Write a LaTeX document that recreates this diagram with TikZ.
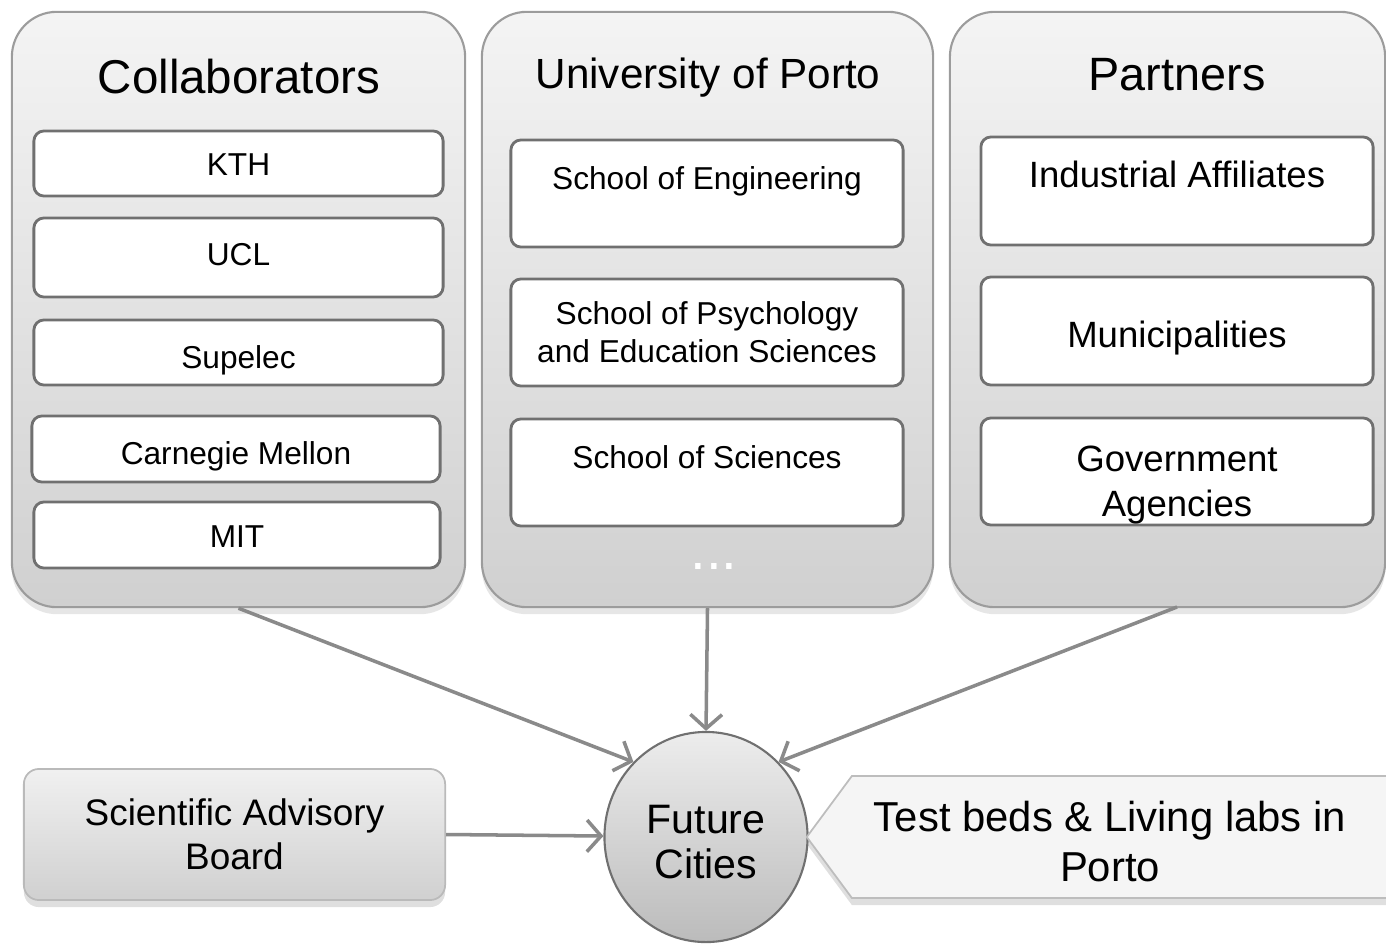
\documentclass[tikz,border=0pt]{standalone}
\usepackage{fontspec}
\setmainfont{Liberation Sans}
\usetikzlibrary{shapes.geometric,shapes.symbols,shadows,arrows.meta}
\definecolor{grouptop}{HTML}{F4F4F4}
\definecolor{groupbot}{HTML}{D0D0D0}
\definecolor{groupline}{HTML}{9C9C9C}
\definecolor{boxline}{HTML}{707070}
\definecolor{edgegray}{HTML}{8A8A8A}
\definecolor{bedfill}{HTML}{F5F5F5}
\definecolor{bedline}{HTML}{BDBDBD}

\begin{document}
\begin{tikzpicture}[x=0.01cm, y=0.01cm]
\tikzstyle{every node}+=[inner sep=0pt]
\tikzstyle{group}=[draw=groupline, line width=0.6pt, rounded corners=0.45cm, top color=grouptop, bottom color=groupbot, drop shadow={opacity=0.2, shadow xshift=0pt, shadow yshift=-2pt}]
\tikzstyle{member}=[draw=boxline, line width=0.8pt, fill=white, rounded corners=0.1cm, align=center]
\tikzstyle{feed}=[draw=edgegray, line width=1pt, -{Straight Barb[length=4pt,width=9pt]}]
\tikzstyle{topline}=[text height=7pt, text depth=9.2pt]
\useasboundingbox (0,0) rectangle (1386,-949);
% the three groups
\node[group, minimum width=4.53cm, minimum height=5.95cm] (collab) at (238.5,-309.5) {};
\node[group, minimum width=4.51cm, minimum height=5.95cm] (uni) at (707.5,-309.5) {};
\node[group, minimum width=4.35cm, minimum height=5.95cm] (partners) at (1167.5,-309.5) {};
\node[font=\fontsize{13.5}{16}\selectfont] (collabT) at (239,-77) {Collaborators};
\node[font=\fontsize{12}{14}\selectfont] (uniT) at (708,-78) {University of Porto};
\node[font=\fontsize{13.3}{16}\selectfont] (partnersT) at (1177,-75) {Partners};
% collaborators
\tikzstyle{every node}+=[font=\fontsize{9}{10.8}\selectfont]
\node[member, text height=7pt, text depth=0pt, minimum width=4.09cm, minimum height=0.65cm] (kth) at (238.5,-163.5) {KTH};
\node[member, text height=6.6pt, text depth=2.2pt, minimum width=4.09cm, minimum height=0.79cm] (ucl) at (238.5,-257.5) {UCL};
\node[member, text height=9.2pt, text depth=0pt, minimum width=4.09cm, minimum height=0.65cm] (supelec) at (238.5,-352.5) {Supelec};
\node[member, text height=9pt, text depth=0pt, minimum width=4.08cm, minimum height=0.66cm] (cmu) at (236,-449) {Carnegie Mellon};
\node[member, text height=7pt, text depth=0pt, minimum width=4.06cm, minimum height=0.66cm] (mit) at (237,-535) {MIT};
% university of porto
\node[member, topline, minimum width=3.92cm, minimum height=1.07cm] (feup) at (707,-193.5) {School of Engineering};
\node[member, minimum width=3.92cm, minimum height=1.07cm] (fpce) at (707,-332.5) {School of Psychology\\and Education Sciences};
\node[member, topline, minimum width=3.92cm, minimum height=1.07cm] (fcup) at (707,-472.5) {School of Sciences};
\node[text=white, font=\fontsize{16}{18}\selectfont] (more) at (714,-566) {...};
% partners
\tikzstyle{every node}+=[font=\fontsize{10.4}{12.8}\selectfont]
\node[member, text height=7.6pt, text depth=9.8pt, minimum width=3.92cm, minimum height=1.08cm] (industry) at (1177,-191) {Industrial Affiliates};
\node[member, text height=11.6pt, minimum width=3.92cm, minimum height=1.08cm] (munic) at (1177,-331) {Municipalities};
\node[member, minimum width=3.92cm, minimum height=1.07cm] (gov) at (1177,-471.5) {\rule{0pt}{15pt}Government\\Agencies};
% bottom row
\node[draw=groupline!70, line width=0.5pt, rounded corners=0.15cm, top color=grouptop!90!groupbot, bottom color=groupbot, drop shadow={opacity=0.25, shadow xshift=0pt, shadow yshift=-2pt}, align=center, font=\fontsize{10.5}{12.5}\selectfont, minimum width=4.21cm, minimum height=1.31cm] (board) at (234.5,-834.5) {Scientific Advisory\\Board};
\node[ellipse, draw=boxline, line width=0.6pt, top color=grouptop!80!groupbot, bottom color=groupbot!90!black, align=center, font=\fontsize{11.7}{12.8}\selectfont, minimum width=2.03cm, minimum height=2.1cm] (city) at (706,-837) {\rule{0pt}{11pt}Future\\Cities};
\node[signal, signal to=west, signal pointer angle=107, draw=bedline, line width=0.5pt, fill=bedfill, drop shadow={opacity=0.25, shadow xshift=0pt, shadow yshift=-2pt}, align=center, font=\fontsize{11.9}{14.2}\selectfont, minimum width=5.93cm, minimum height=1.22cm] (beds) at (1126,-837) {\rule{0pt}{11pt}Test beds \& Living labs in\hspace*{0.32cm}\\Porto\hspace*{0.32cm}};
\coordinate (pfoot) at (1177,-607);
% connectors
\draw[feed] (collab.south) -- (city.north west);
\draw[feed] (uni.south) -- (city.north);
\draw[feed] (pfoot) -- (city.north east);
\draw[feed] (board.east) -- (city);
\end{tikzpicture}
\end{document}
